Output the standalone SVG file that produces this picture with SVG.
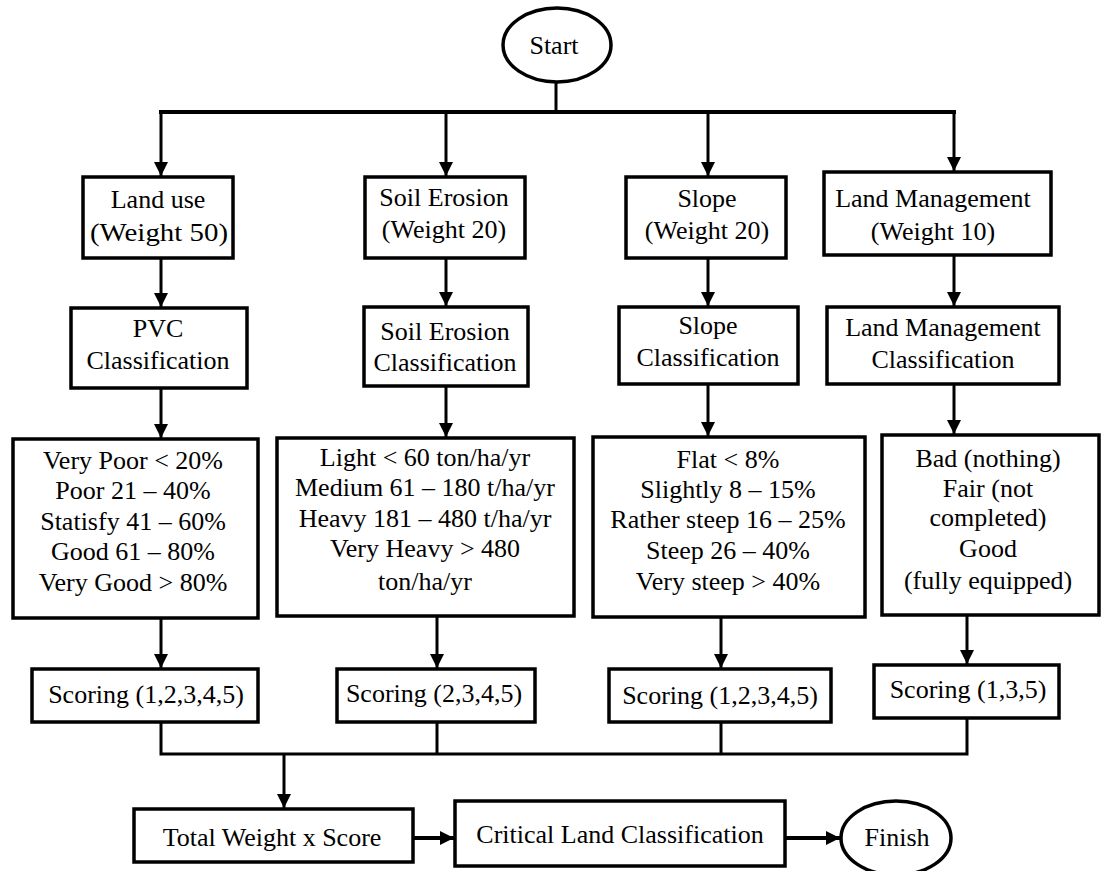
<svg xmlns="http://www.w3.org/2000/svg" width="1101" height="871" viewBox="0 0 1101 871" font-family="'Liberation Serif', 'DejaVu Serif', serif">
<style>
.box{fill:#fff;stroke:#000;stroke-width:3.5}
.term{fill:#fff;stroke:#000;stroke-width:3.5}
.ln{fill:none;stroke:#000;stroke-width:3}
.bar{fill:none;stroke:#000;stroke-width:4}
text{font-family:'Liberation Serif','DejaVu Serif',serif;font-size:26px;fill:#000;text-anchor:middle}
</style>
<defs>
<marker id="ah" markerUnits="userSpaceOnUse" markerWidth="14" markerHeight="16" viewBox="0 0 14 16" refX="14" refY="7" orient="auto">
<path d="M0,0 L14,7 L0,14 Z" fill="#000"/>
</marker>
</defs>
<g id="connectors">
<path class="ln" d="M556,82 V112"/>
<path class="bar" d="M159,112 H956"/>
<path class="ln" d="M161,112 V176" marker-end="url(#ah)"/>
<path class="ln" d="M446,112 V176" marker-end="url(#ah)"/>
<path class="ln" d="M708,112 V176" marker-end="url(#ah)"/>
<path class="ln" d="M954,112 V171" marker-end="url(#ah)"/>
<path class="ln" d="M161,258 V307" marker-end="url(#ah)"/>
<path class="ln" d="M446,258 V306" marker-end="url(#ah)"/>
<path class="ln" d="M708,258 V306" marker-end="url(#ah)"/>
<path class="ln" d="M954,255 V306" marker-end="url(#ah)"/>
<path class="ln" d="M161,388 V438" marker-end="url(#ah)"/>
<path class="ln" d="M446,386 V437" marker-end="url(#ah)"/>
<path class="ln" d="M708,384 V436" marker-end="url(#ah)"/>
<path class="ln" d="M954,384 V434" marker-end="url(#ah)"/>
<path class="ln" d="M161,618 V668" marker-end="url(#ah)"/>
<path class="ln" d="M437,616 V668" marker-end="url(#ah)"/>
<path class="ln" d="M721,617 V668" marker-end="url(#ah)"/>
<path class="ln" d="M967,615 V664" marker-end="url(#ah)"/>
<path class="ln" d="M161,722 V754 H967 V718"/>
<path class="ln" d="M437,722 V754"/>
<path class="ln" d="M721,722 V754"/>
<path class="ln" d="M284,754 V808" marker-end="url(#ah)"/>
<path class="bar" d="M413,838 H454" marker-end="url(#ah)"/>
<path class="bar" d="M785,838 H840" marker-end="url(#ah)"/>
</g>
<g id="start">
<ellipse class="term" cx="557" cy="45" rx="54" ry="37"/>
<text x="554" y="54">Start</text>
</g>
<g id="landuse">
<rect class="box" x="83" y="177" width="150" height="81"/>
<text x="158" y="208">Land use</text>
<text x="159" y="241" textLength="138" lengthAdjust="spacingAndGlyphs">(Weight 50)</text>
</g>
<g id="soilerosion">
<rect class="box" x="365" y="177" width="160" height="81"/>
<text x="444" y="206">Soil Erosion</text>
<text x="444" y="238">(Weight 20)</text>
</g>
<g id="slope">
<rect class="box" x="626" y="177" width="160" height="81"/>
<text x="707" y="207">Slope</text>
<text x="707" y="239">(Weight 20)</text>
</g>
<g id="landmanagement">
<rect class="box" x="824" y="172" width="227" height="83"/>
<text x="933" y="207">Land Management</text>
<text x="933" y="240">(Weight 10)</text>
</g>
<g id="pvcclass">
<rect class="box" x="71" y="308" width="176" height="80"/>
<text x="158" y="337">PVC</text>
<text x="158" y="369">Classification</text>
</g>
<g id="soilclass">
<rect class="box" x="364" y="307" width="164" height="79"/>
<text x="445" y="340">Soil Erosion</text>
<text x="445" y="371">Classification</text>
</g>
<g id="slopeclass">
<rect class="box" x="619" y="307" width="179" height="77"/>
<text x="708" y="334">Slope</text>
<text x="708" y="366">Classification</text>
</g>
<g id="lmclass">
<rect class="box" x="827" y="307" width="232" height="77"/>
<text x="943" y="336">Land Management</text>
<text x="943" y="368">Classification</text>
</g>
<g id="pvcdetail">
<rect class="box" x="13" y="439" width="245" height="179"/>
<text x="133" y="469">Very Poor &lt; 20%</text>
<text x="133" y="499">Poor 21 – 40%</text>
<text x="133" y="530">Statisfy 41 – 60%</text>
<text x="133" y="560">Good 61 – 80%</text>
<text x="133" y="591">Very Good &gt; 80%</text>
</g>
<g id="soildetail">
<rect class="box" x="277" y="438" width="297" height="178"/>
<text x="425" y="466">Light &lt; 60 ton/ha/yr</text>
<text x="425" y="496">Medium 61 – 180 t/ha/yr</text>
<text x="425" y="527">Heavy 181 – 480 t/ha/yr</text>
<text x="425" y="557">Very Heavy &gt; 480</text>
<text x="425" y="590">ton/ha/yr</text>
</g>
<g id="slopedetail">
<rect class="box" x="593" y="437" width="272" height="180"/>
<text x="728" y="468">Flat &lt; 8%</text>
<text x="728" y="498">Slightly 8 – 15%</text>
<text x="728" y="528">Rather steep 16 – 25%</text>
<text x="728" y="559">Steep 26 – 40%</text>
<text x="728" y="590">Very steep &gt; 40%</text>
</g>
<g id="lmdetail">
<rect class="box" x="882" y="435" width="217" height="180"/>
<text x="988" y="467">Bad (nothing)</text>
<text x="988" y="497">Fair (not</text>
<text x="988" y="526">completed)</text>
<text x="988" y="557">Good</text>
<text x="988" y="589">(fully equipped)</text>
</g>
<g id="pvcscore">
<rect class="box" x="32" y="669" width="226" height="53"/>
<text x="146" y="703">Scoring (1,2,3,4,5)</text>
</g>
<g id="soilscore">
<rect class="box" x="337" y="669" width="198" height="53"/>
<text x="434" y="702">Scoring (2,3,4,5)</text>
</g>
<g id="slopescore">
<rect class="box" x="609" y="669" width="222" height="53"/>
<text x="720" y="704">Scoring (1,2,3,4,5)</text>
</g>
<g id="lmscore">
<rect class="box" x="874" y="665" width="185" height="53"/>
<text x="968" y="698">Scoring (1,3,5)</text>
</g>
<g id="total">
<rect class="box" x="134" y="809" width="279" height="53"/>
<text x="272" y="846">Total Weight x Score</text>
</g>
<g id="critical">
<rect class="box" x="455" y="801" width="330" height="65"/>
<text x="620" y="843">Critical Land Classification</text>
</g>
<g id="finish">
<ellipse class="term" cx="896" cy="838" rx="55" ry="37"/>
<text x="897" y="846">Finish</text>
</g>
</svg>
